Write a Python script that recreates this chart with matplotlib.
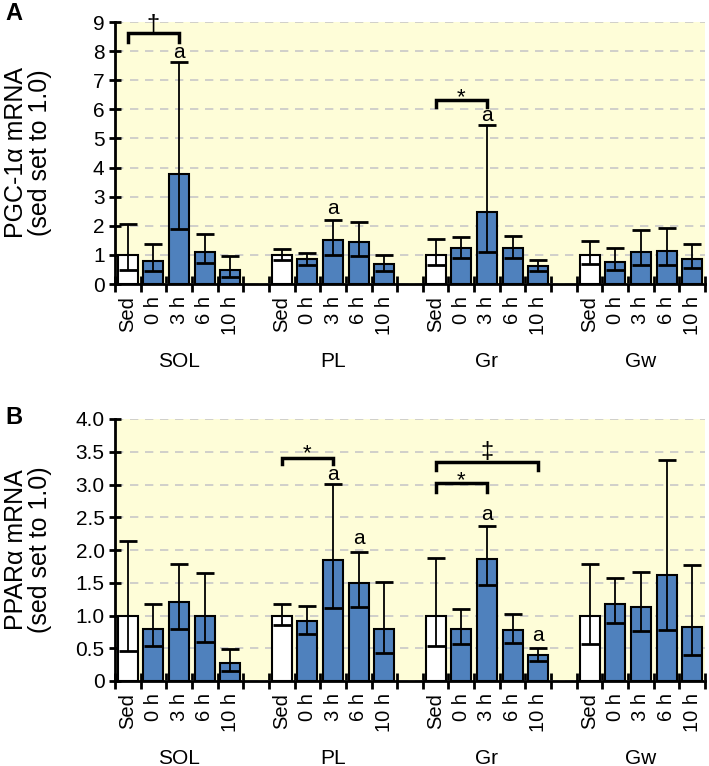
import numpy as np
import matplotlib
matplotlib.use("Agg")
import matplotlib.pyplot as plt

plt.rcParams['font.family'] = ['Liberation Sans', 'DejaVu Sans']

# groups and time points
muscles = ["SOL", "PL", "Gr", "Gw"]
times = ["Sed", "0 h", "3 h", "6 h", "10 h"]

# panel A: PGC-1a mRNA (mean, upper end of bar, lower end of bar)
pgc_mean = [[1.00, 0.80, 3.77, 1.11, 0.48],
            [1.00, 0.87, 1.50, 1.44, 0.67],
            [1.00, 1.22, 2.47, 1.23, 0.63],
            [1.00, 0.75, 1.11, 1.13, 0.86]]
pgc_hi = [[2.05, 1.39, 7.64, 1.71, 0.95],
          [1.19, 1.08, 2.20, 2.13, 1.01],
          [1.54, 1.63, 5.47, 1.66, 0.84],
          [1.48, 1.24, 1.85, 1.94, 1.38]]
pgc_lo = [[0.49, 0.43, 1.88, 0.71, 0.23],
          [0.81, 0.66, 1.00, 0.97, 0.44],
          [0.66, 0.89, 1.11, 0.89, 0.46],
          [0.68, 0.48, 0.66, 0.66, 0.54]]

# panel B: PPARa mRNA
ppar_mean = [[1.00, 0.80, 1.20, 1.00, 0.28],
             [1.00, 0.91, 1.85, 1.50, 0.79],
             [1.00, 0.80, 1.87, 0.78, 0.40],
             [1.00, 1.18, 1.13, 1.62, 0.83]]
ppar_hi = [[2.14, 1.17, 1.79, 1.65, 0.49],
           [1.18, 1.14, 3.01, 1.97, 1.51],
           [1.88, 1.10, 2.37, 1.03, 0.51],
           [1.78, 1.57, 1.66, 3.38, 1.77]]
ppar_lo = [[0.46, 0.53, 0.80, 0.60, 0.15],
           [0.85, 0.72, 1.12, 1.13, 0.42],
           [0.53, 0.57, 1.46, 0.58, 0.30],
           [0.56, 0.88, 0.77, 0.78, 0.39]]

# "a" marks: (group, time index, centre y)
a_marks_A = [(0, 2, 7.94), (1, 2, 2.6), (2, 2, 5.8)]
a_marks_B = [(1, 2, 3.15), (1, 3, 2.18), (2, 2, 2.54), (2, 4, 0.69)]
# brackets: (group, from, to, top y, end y, symbol, symbol centre y)
brackets_A = [(0, 0, 2, 8.62, 8.32, "\u2020", 8.93),
              (2, 0, 2, 6.32, 6.08, "*", 6.65)]
brackets_B = [(1, 0, 2, 3.40, 3.31, "*", 3.59),
              (2, 0, 2, 3.02, 2.89, "*", 3.17),
              (2, 0, 4, 3.34, 3.22, "\u2021", 3.51)]

BLUE = "#4F81BD"
BG = "#FEFDD8"

W, H = 709, 766
fig = plt.figure(figsize=(W / 100, H / 100), dpi=100)

# how far (in em) the visual centre of a glyph sits above its baseline
glyph_mid = {"a": 0.26, "*": 0.58, "\u2020": 0.30, "\u2021": 0.30}


def xpos(g, t):
    return g * 6 + t + 0.5


def put(ax, x, yc, s, size, pxu, **kw):
    em = size * 100 / 72.0
    ax.text(x, yc - glyph_mid[s] * em / pxu, s, ha="center", va="baseline",
            fontsize=size, zorder=5, **kw)


def panel(rect, mean, hi, lo, ymax, yticks, yticklabels, ylabel, letter,
          letter_y, amarks, brackets):
    ax = fig.add_axes(rect)
    ax.set_facecolor(BG)
    pxu = rect[3] * H / ymax  # pixels per data unit
    for g in range(4):
        for t in range(5):
            x = xpos(g, t)
            m = mean[g][t]
            ax.bar(x, m, width=0.78, color="white" if t == 0 else BLUE,
                   edgecolor="black", linewidth=1.5, zorder=3)
            ax.errorbar(x, m, yerr=[[m - lo[g][t]], [hi[g][t] - m]],
                        fmt="none", ecolor="black", elinewidth=1.3,
                        capsize=6.5, capthick=2, zorder=4)
    for g, t, y in amarks:
        put(ax, xpos(g, t), y, "a", 15, pxu)
    for g, t0, t1, ytop, yend, sym, ysym in brackets:
        x0, x1 = xpos(g, t0), xpos(g, t1)
        ax.plot([x0, x0, x1, x1], [yend, ytop, ytop, yend], color="black",
                lw=2.5, solid_joinstyle="miter", zorder=5, clip_on=False)
        if sym == "*":
            put(ax, (x0 + x1) / 2, ysym, sym, 16, pxu)
        else:
            put(ax, (x0 + x1) / 2, ysym, sym, 17, pxu)

    ax.set_xlim(0, 23)
    ax.set_ylim(0, ymax)
    ax.set_yticks(yticks)
    ax.set_yticklabels(yticklabels, fontsize=15)
    ax.yaxis.grid(True, linestyle=(0, (5, 4)), color="#C8C8C8", lw=1.2,
                  zorder=0)
    ax.set_axisbelow(True)
    ax.set_xticks(np.arange(0, 24))
    ax.set_xticklabels([])
    ax.tick_params(axis="x", direction="inout", length=11, width=2)
    ax.tick_params(axis="y", direction="inout", length=9, width=2, pad=3)
    for s in ["top", "right"]:
        ax.spines[s].set_visible(False)
    for s in ["left", "bottom"]:
        ax.spines[s].set_linewidth(2)
    # time labels and muscle labels
    for g in range(4):
        for t in range(5):
            ax.text(xpos(g, t), -0.045, times[t], rotation=90, ha="center",
                    va="top", fontsize=14.5, transform=ax.get_xaxis_transform())
        ax.text(xpos(g, 2), -0.294, muscles[g], ha="center", va="center",
                fontsize=15, transform=ax.get_xaxis_transform())
    fig.text(28 / W, rect[1] + rect[3] / 2, ylabel, rotation=90, fontsize=18,
             linespacing=1.05, ha="center", va="center")
    fig.text(5 / W, 1 - letter_y / H, letter, fontsize=17,
             fontweight="bold", va="center", ha="left")
    return ax


left = 115 / W
width = (705 - 115) / W
panel([left, (H - 284) / H, width, (284 - 22) / H], pgc_mean, pgc_hi,
      pgc_lo, 9, np.arange(0, 10), [str(i) for i in range(10)],
      "PGC-1\u03b1 mRNA\n(sed set to 1.0)", "A", 13, a_marks_A, brackets_A)
panel([left, (H - 681) / H, width, (681 - 419) / H], ppar_mean, ppar_hi,
      ppar_lo, 4.0, np.arange(0, 4.01, 0.5),
      ["0", "0.5", "1.0", "1.5", "2.0", "2.5", "3.0", "3.5", "4.0"],
      "PPAR\u03b1 mRNA\n(sed set to 1.0)", "B", 417, a_marks_B, brackets_B)

fig.savefig("out.png", dpi=100)
